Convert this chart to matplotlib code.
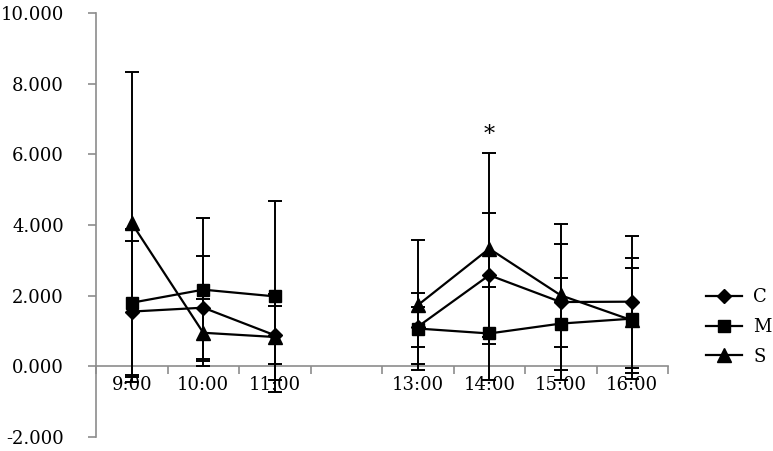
import numpy as np
import matplotlib
matplotlib.use("Agg")
import matplotlib.pyplot as plt
from matplotlib.ticker import FormatStrFormatter, FixedLocator
from matplotlib.lines import Line2D

categories = ["9:00", "10:00", "11:00", "", "13:00", "14:00", "15:00", "16:00"]
c_mean = [1.55, 1.66, 0.88, np.nan, 1.12, 2.58, 1.82, 1.83]
c_sd   = [2.00, 1.46, 0.82, np.nan, 0.57, 1.76, 2.20, 1.87]
m_mean = [1.80, 2.17, 1.98, np.nan, 1.07, 0.93, 1.21, 1.35]
m_sd   = [2.10, 2.03, 2.70, np.nan, 1.00, 1.32, 1.30, 1.72]
s_mean = [4.05, 0.95, 0.83, np.nan, 1.73, 3.33, 2.01, 1.30]
s_sd   = [4.29, 0.95, 1.23, np.nan, 1.84, 2.70, 1.45, 1.48]
series_names = ["C", "M", "S"]
yticks = [-2, 0, 2, 4, 6, 8, 10]

plt.rcParams['font.family'] = ['DejaVu Serif']
fig = plt.figure(figsize=(7.73, 4.51), dpi=100)
ax = fig.add_axes([96/773, 1-437/451, (668-96)/773, (437-13)/451])

x = np.arange(len(categories))
styles = [("D", 7), ("s", 9), ("^", 9.5)]
handles = []
for name, mean, sd, (mk, ms) in zip(series_names, [c_mean, m_mean, s_mean],
                                     [c_sd, m_sd, s_sd], styles):
    ax.errorbar(x, mean, yerr=sd, color="black", lw=1.6, marker=mk, ms=ms,
                ecolor="black", elinewidth=1.4, capsize=5, capthick=1.4,
                zorder=3)
    handles.append(Line2D([], [], color="black", lw=1.6, marker=mk, ms=ms,
                          label=name))

ax.set_xlim(-0.5, len(categories) - 0.5)
ax.set_ylim(-2, 10)
ax.yaxis.set_major_locator(FixedLocator(yticks))
ax.yaxis.set_major_formatter(FormatStrFormatter("%.3f"))

for s in ["top", "right"]:
    ax.spines[s].set_visible(False)
ax.spines["left"].set_color("#8c8c8c")
ax.spines["left"].set_linewidth(1.2)
ax.spines["bottom"].set_position(("data", 0))
ax.spines["bottom"].set_color("#8c8c8c")
ax.spines["bottom"].set_linewidth(1.2)

ax.set_xticks(x)
ax.set_xticklabels(categories)
ax.set_xticks(np.arange(-0.5, len(categories) + 0.5, 1), minor=True)
ax.tick_params(axis="x", which="major", length=0, pad=7, labelsize=13)
ax.tick_params(axis="x", which="minor", length=6, direction="out",
               color="#8c8c8c", width=1.2)
ax.tick_params(axis="y", which="major", length=6, direction="out",
               color="#8c8c8c", width=1.2, pad=17, labelsize=13)

ax.text(5, 6.55, "*", ha="center", va="center", fontsize=16)

fig.legend(handles=handles, loc="center left",
           bbox_to_anchor=(690/773, 1-327/451),
           frameon=False, fontsize=13, handlelength=2.0,
           handletextpad=0.6, labelspacing=0.65)

fig.savefig("out.png", dpi=100)
